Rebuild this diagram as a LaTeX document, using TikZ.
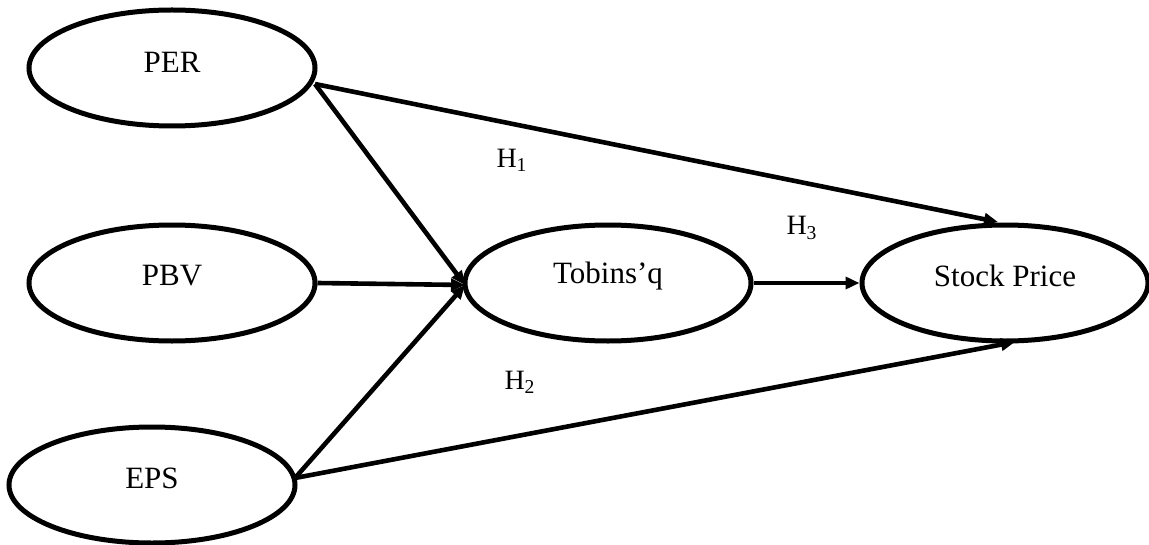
\documentclass[tikz,border=0pt]{standalone}
\usepackage{fontspec}
\setmainfont{Liberation Serif}
\usetikzlibrary{arrows.meta,shapes.geometric}
\begin{document}
\begin{tikzpicture}[x=0.5pt,y=-0.5pt,
  latent/.style={draw=black,line width=2.5pt,ellipse,minimum width=143pt,minimum height=58pt,inner sep=0pt},
  conn/.style={line width=2.3pt,-{Triangle[length=7pt,width=6pt]}},
  lbl/.style={font=\fontsize{15.5}{18}\selectfont},
  hlbl/.style={font=\fontsize{14}{16}\selectfont}]
\useasboundingbox (0,0) rectangle (1149,545);
\node[latent] (per) at (172,68) {};
\node[lbl] at (172,62) {PER};
\node[latent] (pbv) at (172,283) {};
\node[lbl] at (172,276) {PBV};
\node[latent] (eps) at (152,485) {};
\node[lbl] at (152,478) {EPS};
\node[latent] (tq) at (608,283) {};
\node[lbl] at (608,276) {Tobins’q};
\node[latent] (sp) at (1005,283) {};
\node[lbl] at (1005,276) {Stock Price};
\coordinate (tqin) at (465,285);
\coordinate (sptop) at (998,222);
\coordinate (spbot) at (1015,342);
\coordinate (perout) at (315,84);
\coordinate (epsout) at (295,478);
\draw[conn] (perout) -- (tqin);
\draw[conn] (perout) -- (sptop);
\draw[conn] (pbv.east) -- (tqin);
\draw[conn] (epsout) -- (tqin);
\draw[conn] (epsout) -- (spbot);
\draw[conn] (tq.east) -- (sp.west);
\node[hlbl] (h1) at (512,160) {H\textsubscript{1}};
\node[hlbl] (h3) at (802,228) {H\textsubscript{3}};
\node[hlbl] (h2) at (520,382) {H\textsubscript{2}};
\end{tikzpicture}
\end{document}
